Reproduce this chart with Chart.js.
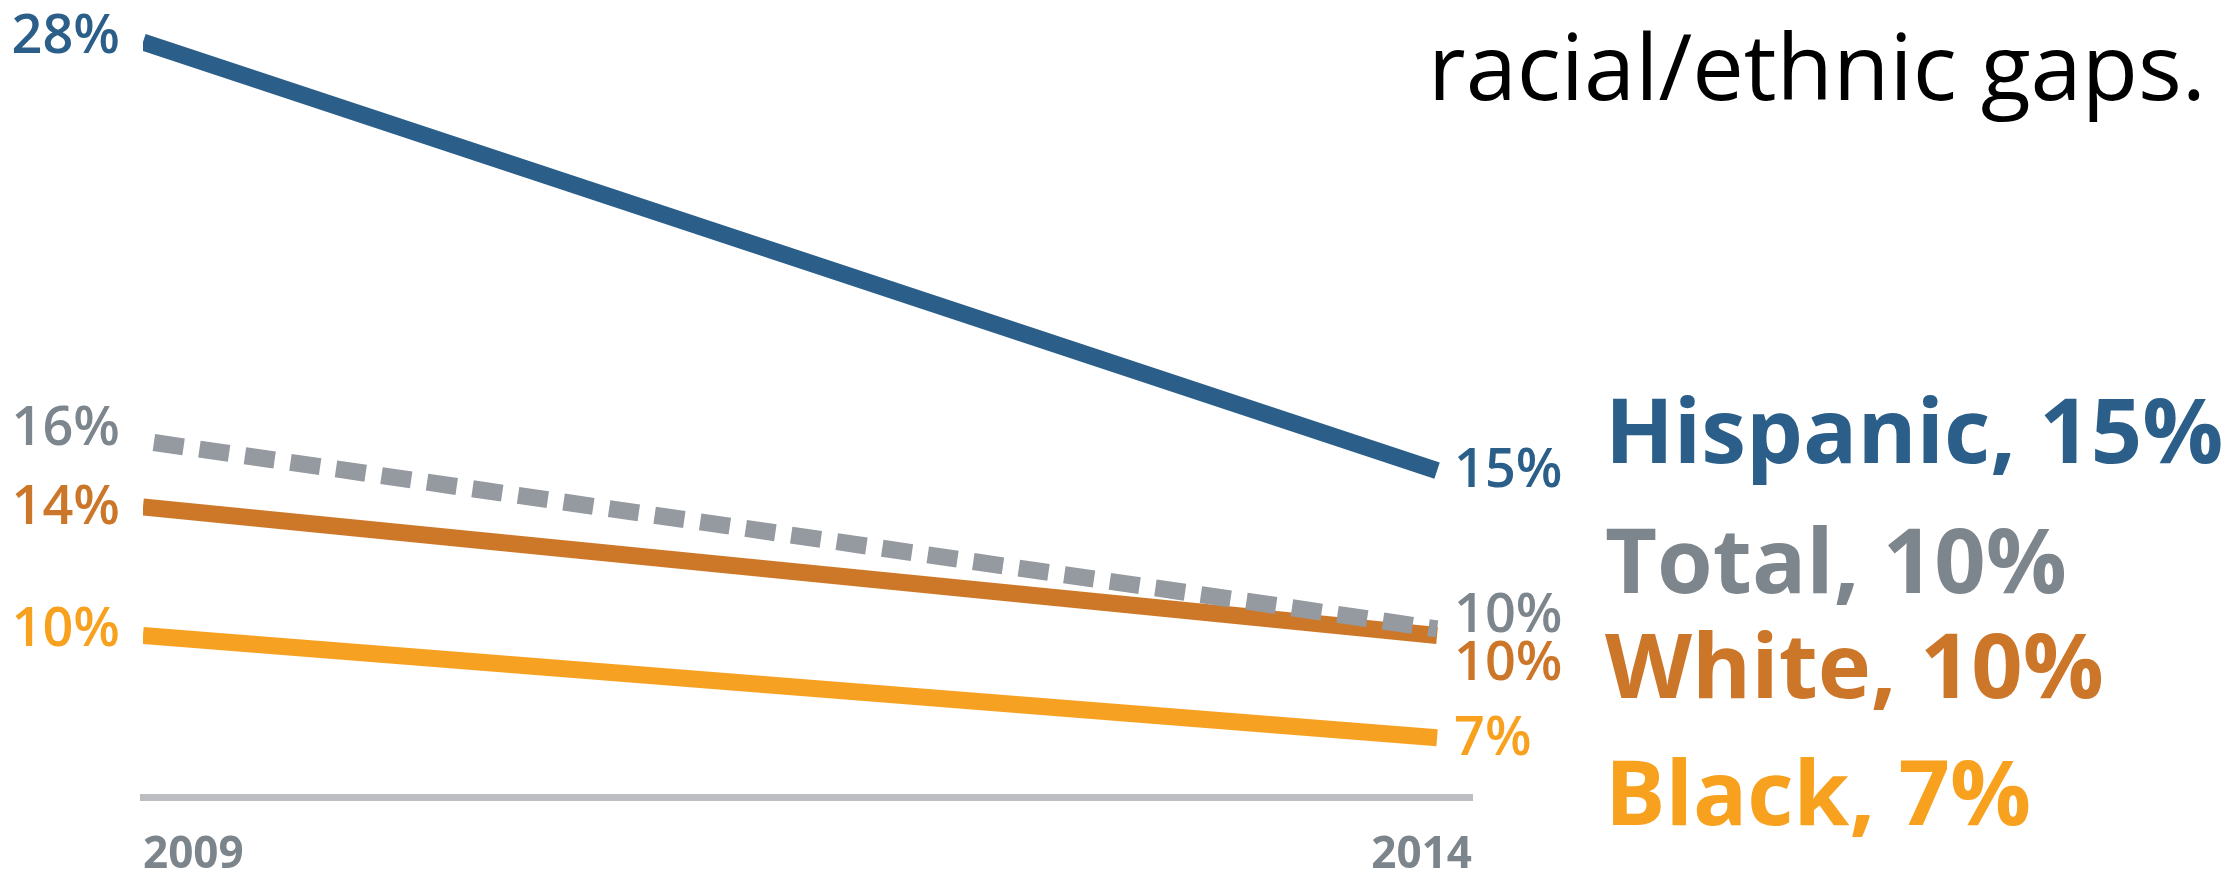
<!DOCTYPE html>
<html><head><meta charset="utf-8">
<script src="https://cdn.jsdelivr.net/npm/chart.js@4"></script>
<style>html,body{margin:0;padding:0;background:#fff;overflow:hidden}canvas{display:block}</style>
</head><body>
<canvas id="c" width="2231" height="869"></canvas>
<script>
// ---- data ----
const years = [2009, 2014];
const yearLabels = ['2009', '2014'];
const seriesNames = ['Hispanic', 'Total', 'White', 'Black'];
const hispanic = [28, 15];
const total = [15.9, 10.2];
const white = [13.9, 10.0];
const black = [10.0, 6.9];
const titleText = 'racial/ethnic gaps.';

// ---- styles ----
const lineColors = ['#2B5F8A', '#959AA0', '#CD7829', '#F7A122'];
const textColors = ['#2B5F8A', '#7E868D', '#CC7629', '#F7A11F'];
const nudgeLeft = [-4, -11, 2, -4];
const nudgeRight = [1, -12, 30, 2];
const legendBaselines = [463, 593, 698, 825];
const FONT = '"Open Sans", "Noto Sans", sans-serif';

const fmt = v => Math.round(v) + '%';
const toPts = arr => arr.map((v, i) => ({ x: years[i], y: v }));
const seriesData = [hispanic, total, white, black];

const datasets = seriesNames.map((name, i) => ({
  label: name,
  data: toPts(seriesData[i]),
  borderColor: lineColors[i],
  backgroundColor: lineColors[i],
  borderWidth: 17,
  borderCapStyle: 'butt',
  borderDash: name === 'Total' ? [30, 16] : [],
  borderDashOffset: name === 'Total' ? 35 : 0,
  pointRadius: 0,
  fill: false,
  tension: 0,
  textColor: textColors[i],
  nudgeL: nudgeLeft[i],
  nudgeR: nudgeRight[i]
}));

const labelPlugin = {
  id: 'valueLabels',
  afterDatasetsDraw(chart) {
    const ctx = chart.ctx, xs = chart.scales.x, ys = chart.scales.y;
    chart.data.datasets.forEach((ds, i) => {
      const p0 = ds.data[0], p1 = ds.data[ds.data.length - 1];
      ctx.save();
      ctx.fillStyle = ds.textColor;
      ctx.textBaseline = 'alphabetic';
      ctx.font = '600 54px ' + FONT;
      ctx.textAlign = 'right';
      ctx.fillText(fmt(p0.y), xs.getPixelForValue(p0.x) - 23, ys.getPixelForValue(p0.y) + 15 + ds.nudgeL);
      ctx.textAlign = 'left';
      ctx.fillText(fmt(p1.y), xs.getPixelForValue(p1.x) + 17, ys.getPixelForValue(p1.y) + 15 + ds.nudgeR);
      ctx.font = '700 90px ' + FONT;
      ctx.fillText(ds.label + ', ' + fmt(p1.y), xs.right + 133, legendBaselines[i]);
      ctx.restore();
    });
    ctx.save();
    ctx.fillStyle = '#000';
    ctx.font = '400 92px ' + FONT;
    ctx.textAlign = 'right';
    ctx.textBaseline = 'alphabetic';
    ctx.fillText(titleText, 2206, 100);
    ctx.restore();
  }
};

function build() {
  new Chart(document.getElementById('c'), {
    type: 'line',
    data: { datasets },
    plugins: [labelPlugin],
    options: {
      responsive: false,
      animation: false,
      devicePixelRatio: 1,
      layout: { padding: { left: 143, top: 9, right: 759, bottom: 0 } },
      plugins: { legend: { display: false }, tooltip: { enabled: false }, title: { display: false } },
      scales: {
        x: {
          type: 'linear',
          min: years[0],
          max: 2014.135,
          afterBuildTicks: s => { s.ticks = [{ value: s.min }, { value: s.max }]; },
          afterFit: s => { s.height = 72; },
          ticks: {
            align: 'inner', padding: 24, color: '#7C858B', autoSkip: false, maxRotation: 0,
            font: { family: FONT, weight: '700', size: 44 },
            callback: (v, i) => yearLabels[i]
          },
          grid: { display: false },
          border: { display: true, color: '#BCBDC1', width: 7 }
        },
        y: { display: false, min: 5.1, max: 29 }
      }
    }
  });
}
Promise.all([
  document.fonts.load('600 54px "Open Sans"'),
  document.fonts.load('700 90px "Open Sans"'),
  document.fonts.load('400 92px "Open Sans"')
]).then(build, build);
</script>
</body></html>
